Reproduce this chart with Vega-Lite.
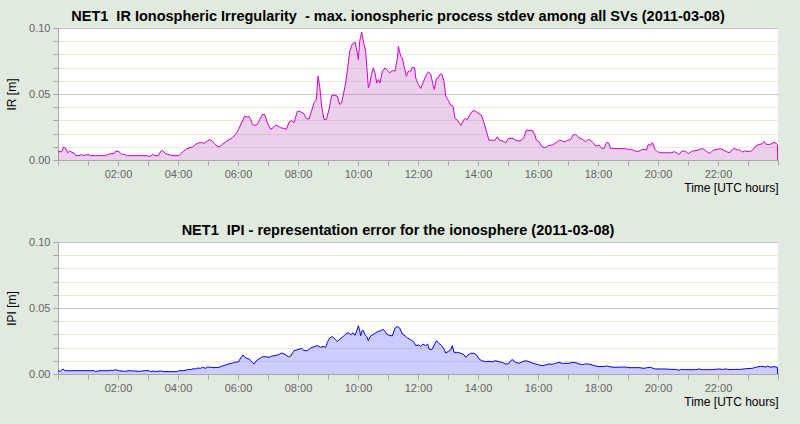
{
  "$schema": "https://vega.github.io/schema/vega-lite/v6.json",
  "background": "#e1eade",
  "padding": {"left": 5, "top": 8, "right": 25, "bottom": 30},
  "config": {
    "font": "Liberation Sans",
    "view": {"fill": "white", "stroke": null},
    "title": {"font": "Liberation Sans", "fontSize": 14.5, "fontWeight": "bold", "color": "#000000", "anchor": "middle", "offset": -2, "dx": -20},
    "axisX": {
      "grid": false, "tickColor": "#a8a8a8", "tickSize": 5, "domainColor": "#a8a8a8",
      "labelColor": "#666666", "labelFontSize": 11, "labelPadding": 3, "labelFont": "Liberation Sans",
      "titleAnchor": "end", "titleFontWeight": "normal", "titleFontSize": 12, "titleColor": "#000000", "titlePadding": 3, "titleFont": "Liberation Sans"
    },
    "axisY": {
      "gridOpacity": 1,
      "tickColor": "#a8a8a8", "tickSize": 5, "domainColor": "#a8a8a8",
      "labelColor": "#666666", "labelFontSize": 11, "labelPadding": 3, "labelFont": "Liberation Sans",
      "titleFontWeight": "normal", "titleFontSize": 12, "titleColor": "#000000", "titlePadding": 10, "titleFont": "Liberation Sans"
    }
  },
  "datasets": {
    "ir": [
      {"h":0,"v":0.0063},{"h":0.122,"v":0.0063},{"h":0.189,"v":0.0098},{"h":0.256,"v":0.0088},{"h":0.322,"v":0.0055},{"h":0.389,"v":0.0068},{"h":0.456,"v":0.006},{"h":0.533,"v":0.0053},{"h":0.589,"v":0.0033},{"h":0.7,"v":0.0033},{"h":0.789,"v":0.004},{"h":0.867,"v":0.0033},{"h":0.922,"v":0.004},{"h":1.033,"v":0.004},{"h":1.089,"v":0.0033},{"h":1.256,"v":0.0033},{"h":1.589,"v":0.0033},{"h":1.678,"v":0.0043},{"h":1.756,"v":0.0048},{"h":1.867,"v":0.0048},{"h":1.922,"v":0.0068},{"h":2.033,"v":0.0063},{"h":2.122,"v":0.0043},{"h":2.233,"v":0.0043},{"h":2.278,"v":0.0033},{"h":2.589,"v":0.0033},{"h":2.978,"v":0.0033},{"h":3.033,"v":0.0025},{"h":3.144,"v":0.004},{"h":3.256,"v":0.0033},{"h":3.344,"v":0.0033},{"h":3.422,"v":0.0065},{"h":3.478,"v":0.0073},{"h":3.589,"v":0.0048},{"h":3.7,"v":0.004},{"h":3.811,"v":0.0033},{"h":4.033,"v":0.0033},{"h":4.089,"v":0.0048},{"h":4.2,"v":0.0068},{"h":4.289,"v":0.0086},{"h":4.367,"v":0.0091},{"h":4.478,"v":0.0098},{"h":4.589,"v":0.0118},{"h":4.7,"v":0.0131},{"h":4.811,"v":0.0131},{"h":4.867,"v":0.0126},{"h":4.978,"v":0.0144},{"h":5.056,"v":0.0154},{"h":5.144,"v":0.0144},{"h":5.233,"v":0.0118},{"h":5.367,"v":0.0098},{"h":5.478,"v":0.0118},{"h":5.589,"v":0.0136},{"h":5.7,"v":0.0154},{"h":5.811,"v":0.0169},{"h":5.923,"v":0.0194},
      {"h":6.034,"v":0.0239},{"h":6.145,"v":0.0295},{"h":6.223,"v":0.0332},{"h":6.312,"v":0.0325},{"h":6.367,"v":0.0332},{"h":6.423,"v":0.0307},{"h":6.479,"v":0.027},{"h":6.567,"v":0.0262},{"h":6.645,"v":0.027},{"h":6.723,"v":0.0307},{"h":6.812,"v":0.0345},{"h":6.89,"v":0.0345},{"h":6.979,"v":0.0282},{"h":7.09,"v":0.0232},{"h":7.167,"v":0.0244},{"h":7.256,"v":0.0264},{"h":7.334,"v":0.0257},{"h":7.423,"v":0.0244},{"h":7.534,"v":0.0239},{"h":7.612,"v":0.0232},{"h":7.701,"v":0.0287},{"h":7.779,"v":0.03},{"h":7.867,"v":0.0282},{"h":7.979,"v":0.037},{"h":8.09,"v":0.0365},{"h":8.201,"v":0.035},{"h":8.279,"v":0.0315},{"h":8.367,"v":0.031},{"h":8.456,"v":0.0375},{"h":8.534,"v":0.0433},{"h":8.612,"v":0.0458},{"h":8.667,"v":0.0635},{"h":8.723,"v":0.0559},{"h":8.79,"v":0.0408},{"h":8.867,"v":0.0307},{"h":8.945,"v":0.0307},{"h":9.034,"v":0.0383},{"h":9.123,"v":0.0489},{"h":9.201,"v":0.0491},{"h":9.312,"v":0.0484},{"h":9.39,"v":0.0421},{"h":9.456,"v":0.0433},{"h":9.523,"v":0.0509},{"h":9.59,"v":0.0584},{"h":9.656,"v":0.0698},{"h":9.723,"v":0.0824},{"h":9.812,"v":0.0879},{"h":9.901,"v":0.0894},{"h":9.979,"v":0.0811},{"h":10.012,"v":0.0761},{"h":10.056,"v":0.0899},{"h":10.123,"v":0.097},{"h":10.19,"v":0.0887},{"h":10.256,"v":0.0824},{"h":10.345,"v":0.0547},{"h":10.39,"v":0.0572},{"h":10.445,"v":0.0647},{"h":10.512,"v":0.0698},{"h":10.567,"v":0.066},{"h":10.623,"v":0.0584},{"h":10.679,"v":0.061},{"h":10.734,"v":0.0584},{"h":10.812,"v":0.0673},{"h":10.901,"v":0.0698},{"h":10.979,"v":0.0678},{"h":11.056,"v":0.066},{"h":11.145,"v":0.0678},{"h":11.234,"v":0.0673},{"h":11.312,"v":0.0773},{"h":11.345,"v":0.0861},{"h":11.423,"v":0.0786},{"h":11.479,"v":0.0773},{"h":11.534,"v":0.071},{"h":11.612,"v":0.0635},{"h":11.679,"v":0.0673},{"h":11.756,"v":0.0673},{"h":11.812,"v":0.0703},{"h":11.89,"v":0.0698},
      {"h":11.923,"v":0.0622},{"h":12.012,"v":0.0572},{"h":12.09,"v":0.0542},{"h":12.167,"v":0.0584},{"h":12.256,"v":0.0635},{"h":12.345,"v":0.0668},{"h":12.423,"v":0.0652},{"h":12.501,"v":0.0572},{"h":12.545,"v":0.0534},{"h":12.612,"v":0.0617},{"h":12.679,"v":0.0622},{"h":12.723,"v":0.0647},{"h":12.79,"v":0.0652},{"h":12.867,"v":0.0597},{"h":12.923,"v":0.0484},{"h":13.012,"v":0.0451},{"h":13.09,"v":0.0416},{"h":13.167,"v":0.0408},{"h":13.234,"v":0.0315},{"h":13.312,"v":0.0302},{"h":13.367,"v":0.0282},{"h":13.434,"v":0.0262},{"h":13.501,"v":0.0295},{"h":13.567,"v":0.0315},{"h":13.645,"v":0.0307},{"h":13.701,"v":0.0332},{"h":13.79,"v":0.0365},{"h":13.867,"v":0.0375},{"h":13.945,"v":0.0365},{"h":14.034,"v":0.035},{"h":14.112,"v":0.034},{"h":14.201,"v":0.0282},{"h":14.279,"v":0.0219},{"h":14.367,"v":0.0149},{"h":14.456,"v":0.0151},{"h":14.567,"v":0.0149},{"h":14.645,"v":0.0176},{"h":14.723,"v":0.0149},{"h":14.834,"v":0.0144},{"h":14.923,"v":0.0131},{"h":15.012,"v":0.0164},{"h":15.167,"v":0.0164},{"h":15.256,"v":0.0149},{"h":15.367,"v":0.0144},{"h":15.456,"v":0.0151},{"h":15.534,"v":0.0174},{"h":15.612,"v":0.0227},{"h":15.701,"v":0.0224},{"h":15.812,"v":0.0224},{"h":15.89,"v":0.0194},{"h":15.945,"v":0.0151},{"h":16.034,"v":0.0139},{"h":16.123,"v":0.0103},{"h":16.201,"v":0.0093},{"h":16.279,"v":0.0098},{"h":16.367,"v":0.0111},{"h":16.479,"v":0.0113},{"h":16.567,"v":0.0126},{"h":16.645,"v":0.0139},{"h":16.723,"v":0.0151},{"h":16.812,"v":0.0144},{"h":16.901,"v":0.0136},{"h":16.979,"v":0.0149},{"h":17.09,"v":0.0156},{"h":17.167,"v":0.0189},{"h":17.256,"v":0.0194},{"h":17.367,"v":0.0169},{"h":17.479,"v":0.0156},{"h":17.59,"v":0.0139},{"h":17.679,"v":0.0156},{"h":17.756,"v":0.0149},{"h":17.834,"v":0.0131},{"h":17.923,"v":0.0106},
      {"h":18.034,"v":0.0113},{"h":18.123,"v":0.0088},{"h":18.201,"v":0.0088},{"h":18.279,"v":0.0131},{"h":18.345,"v":0.0131},{"h":18.423,"v":0.0088},{"h":18.534,"v":0.0086},{"h":18.701,"v":0.0086},{"h":18.923,"v":0.0086},{"h":18.979,"v":0.0081},{"h":19.09,"v":0.0081},{"h":19.201,"v":0.0073},{"h":19.279,"v":0.0063},{"h":19.367,"v":0.0068},{"h":19.479,"v":0.0081},{"h":19.612,"v":0.0076},{"h":19.679,"v":0.0118},{"h":19.745,"v":0.0111},{"h":19.812,"v":0.0131},{"h":19.901,"v":0.0081},{"h":19.979,"v":0.0063},{"h":20.09,"v":0.0055},{"h":20.256,"v":0.0055},{"h":20.456,"v":0.0055},{"h":20.534,"v":0.0063},{"h":20.645,"v":0.0053},{"h":20.701,"v":0.004},{"h":20.79,"v":0.0068},{"h":20.901,"v":0.0068},{"h":21.012,"v":0.0048},{"h":21.145,"v":0.0068},{"h":21.312,"v":0.0073},{"h":21.456,"v":0.0086},{"h":21.534,"v":0.0081},{"h":21.645,"v":0.006},{"h":21.734,"v":0.005},{"h":21.834,"v":0.0073},{"h":21.979,"v":0.0081},{"h":22.09,"v":0.0086},{"h":22.201,"v":0.0073},{"h":22.312,"v":0.006},{"h":22.39,"v":0.0055},{"h":22.479,"v":0.0081},{"h":22.567,"v":0.0086},{"h":22.645,"v":0.0076},{"h":22.723,"v":0.0078},{"h":22.812,"v":0.006},{"h":22.89,"v":0.0068},{"h":23.056,"v":0.0063},{"h":23.145,"v":0.0073},{"h":23.256,"v":0.0106},{"h":23.367,"v":0.0118},{"h":23.479,"v":0.0123},{"h":23.545,"v":0.0141},{"h":23.612,"v":0.0118},{"h":23.701,"v":0.0118},{"h":23.79,"v":0.0123},{"h":23.867,"v":0.0134},{"h":23.945,"v":0.0126},{"h":23.98,"v":0.0118},{"h":23.99,"v":0}
    ],
    "ipi": [
      {"h":0,"v":0.0025},{"h":0.078,"v":0.002},{"h":0.167,"v":0.0038},{"h":0.233,"v":0.0025},{"h":1.033,"v":0.0025},{"h":1.2,"v":0.0025},{"h":1.256,"v":0.0018},{"h":1.367,"v":0.0025},{"h":1.7,"v":0.0025},{"h":1.756,"v":0.003},{"h":1.811,"v":0.0025},{"h":1.922,"v":0.0033},{"h":2.011,"v":0.0025},{"h":2.256,"v":0.002},{"h":2.367,"v":0.0025},{"h":2.756,"v":0.002},{"h":2.867,"v":0.0025},{"h":3.033,"v":0.0025},{"h":3.089,"v":0.0018},{"h":3.2,"v":0.0023},{"h":3.256,"v":0.0018},{"h":3.422,"v":0.0023},{"h":3.533,"v":0.0018},{"h":3.978,"v":0.0018},{"h":4.033,"v":0.0025},{"h":4.2,"v":0.0025},{"h":4.311,"v":0.0033},{"h":4.422,"v":0.0033},{"h":4.5,"v":0.004},{"h":4.589,"v":0.0038},{"h":4.644,"v":0.0045},{"h":4.756,"v":0.0043},{"h":4.811,"v":0.0051},{"h":4.922,"v":0.0043},{"h":4.978,"v":0.0053},{"h":5.089,"v":0.0051},{"h":5.2,"v":0.0048},{"h":5.367,"v":0.0051},{"h":5.478,"v":0.0061},{"h":5.589,"v":0.0068},{"h":5.7,"v":0.0076},{"h":5.811,"v":0.0083},{"h":5.922,"v":0.0091},
      {"h":6.012,"v":0.0091},{"h":6.09,"v":0.0121},{"h":6.167,"v":0.0144},{"h":6.256,"v":0.0121},{"h":6.367,"v":0.0114},{"h":6.456,"v":0.0096},{"h":6.534,"v":0.0076},{"h":6.612,"v":0.0101},{"h":6.701,"v":0.0114},{"h":6.812,"v":0.0131},{"h":6.923,"v":0.0131},{"h":7.034,"v":0.0126},{"h":7.123,"v":0.0136},{"h":7.234,"v":0.0139},{"h":7.345,"v":0.0146},{"h":7.456,"v":0.0159},{"h":7.567,"v":0.0149},{"h":7.679,"v":0.0131},{"h":7.756,"v":0.0136},{"h":7.867,"v":0.0177},{"h":7.979,"v":0.0184},{"h":8.123,"v":0.0194},{"h":8.201,"v":0.0177},{"h":8.312,"v":0.0177},{"h":8.423,"v":0.0197},{"h":8.534,"v":0.0207},{"h":8.645,"v":0.0215},{"h":8.756,"v":0.0202},{"h":8.834,"v":0.021},{"h":8.923,"v":0.0202},{"h":8.979,"v":0.024},{"h":9.056,"v":0.0273},{"h":9.145,"v":0.0283},{"h":9.234,"v":0.0265},{"h":9.312,"v":0.0247},{"h":9.401,"v":0.0265},{"h":9.501,"v":0.0283},{"h":9.59,"v":0.0303},{"h":9.679,"v":0.0313},{"h":9.756,"v":0.0298},{"h":9.834,"v":0.0311},{"h":9.901,"v":0.0293},{"h":9.979,"v":0.0341},{"h":10.012,"v":0.0366},{"h":10.056,"v":0.0328},{"h":10.09,"v":0.029},{"h":10.123,"v":0.0323},{"h":10.167,"v":0.0333},{"h":10.234,"v":0.0298},{"h":10.29,"v":0.0283},{"h":10.345,"v":0.0253},{"h":10.423,"v":0.029},{"h":10.501,"v":0.0298},{"h":10.59,"v":0.0313},{"h":10.679,"v":0.0323},{"h":10.756,"v":0.0328},{"h":10.834,"v":0.0338},{"h":10.901,"v":0.0323},{"h":10.979,"v":0.0298},{"h":11.056,"v":0.0293},{"h":11.145,"v":0.0288},{"h":11.234,"v":0.0348},{"h":11.312,"v":0.0359},{"h":11.39,"v":0.0348},{"h":11.479,"v":0.0303},{"h":11.567,"v":0.029},{"h":11.645,"v":0.0273},{"h":11.756,"v":0.026},{"h":11.867,"v":0.024},
      {"h":11.923,"v":0.0215},{"h":12.012,"v":0.022},{"h":12.09,"v":0.021},{"h":12.167,"v":0.0227},{"h":12.256,"v":0.0215},{"h":12.323,"v":0.0227},{"h":12.367,"v":0.0189},{"h":12.456,"v":0.0184},{"h":12.534,"v":0.0215},{"h":12.612,"v":0.0253},{"h":12.701,"v":0.0232},{"h":12.79,"v":0.0215},{"h":12.867,"v":0.0189},{"h":12.923,"v":0.0159},{"h":13.012,"v":0.0172},{"h":13.09,"v":0.0182},{"h":13.145,"v":0.0215},{"h":13.201,"v":0.0164},{"h":13.312,"v":0.0164},{"h":13.423,"v":0.0157},{"h":13.534,"v":0.0146},{"h":13.59,"v":0.0126},{"h":13.679,"v":0.0146},{"h":13.756,"v":0.0157},{"h":13.867,"v":0.0157},{"h":13.956,"v":0.0144},{"h":14.034,"v":0.0114},{"h":14.123,"v":0.0101},{"h":14.256,"v":0.0093},{"h":14.367,"v":0.0096},{"h":14.479,"v":0.0093},{"h":14.59,"v":0.0101},{"h":14.701,"v":0.0093},{"h":14.812,"v":0.0088},{"h":14.923,"v":0.0076},{"h":15.012,"v":0.0076},{"h":15.09,"v":0.0101},{"h":15.145,"v":0.0109},{"h":15.256,"v":0.0088},{"h":15.367,"v":0.0081},{"h":15.479,"v":0.0093},{"h":15.59,"v":0.0101},{"h":15.701,"v":0.0093},{"h":15.812,"v":0.0083},{"h":15.923,"v":0.0076},{"h":16.034,"v":0.0068},{"h":16.145,"v":0.0063},{"h":16.256,"v":0.0068},{"h":16.367,"v":0.0076},{"h":16.479,"v":0.0073},{"h":16.59,"v":0.0081},{"h":16.701,"v":0.0088},{"h":16.812,"v":0.0081},{"h":17.034,"v":0.0081},{"h":17.145,"v":0.0088},{"h":17.256,"v":0.0086},{"h":17.367,"v":0.0076},{"h":17.479,"v":0.0071},{"h":17.59,"v":0.0076},{"h":17.701,"v":0.0076},{"h":17.812,"v":0.0068},{"h":17.923,"v":0.0061},
      {"h":18.034,"v":0.0056},{"h":18.256,"v":0.0058},{"h":18.312,"v":0.0061},{"h":18.367,"v":0.0056},{"h":18.534,"v":0.0051},{"h":18.923,"v":0.0053},{"h":19.034,"v":0.0048},{"h":19.367,"v":0.0048},{"h":19.534,"v":0.0043},{"h":19.645,"v":0.0048},{"h":19.756,"v":0.0051},{"h":19.834,"v":0.0043},{"h":19.923,"v":0.0038},{"h":20.256,"v":0.0038},{"h":20.423,"v":0.0035},{"h":20.59,"v":0.0035},{"h":20.701,"v":0.0028},{"h":20.756,"v":0.0035},{"h":20.923,"v":0.0033},{"h":21.256,"v":0.0033},{"h":21.367,"v":0.0038},{"h":21.479,"v":0.0033},{"h":21.812,"v":0.0033},{"h":22.034,"v":0.0038},{"h":22.145,"v":0.0035},{"h":22.279,"v":0.0038},{"h":22.367,"v":0.0033},{"h":22.59,"v":0.0035},{"h":22.756,"v":0.0035},{"h":22.923,"v":0.004},{"h":23.145,"v":0.0043},{"h":23.256,"v":0.0051},{"h":23.423,"v":0.0058},{"h":23.534,"v":0.0056},{"h":23.59,"v":0.0051},{"h":23.645,"v":0.0061},{"h":23.756,"v":0.0051},{"h":23.867,"v":0.0056},{"h":23.98,"v":0.0051},{"h":23.99,"v":0}
    ]
  },
  "vconcat": [
    {
      "title": "NET1\u00a0\u00a0IR Ionospheric Irregularity\u00a0\u00a0- max. ionospheric process stdev among all SVs (2011-03-08)",
      "width": 720, "height": 132,
      "data": {"name": "ir"},
      "encoding": {
        "x": {"field": "h", "type": "quantitative", "scale": {"domain": [0, 24], "nice": false, "zero": false},
          "axis": {"title": "Time [UTC hours]", "values": [0,1,2,3,4,5,6,7,8,9,10,11,12,13,14,15,16,17,18,19,20,21,22,23,24], "labelOverlap": false,
            "labelExpr": "datum.value % 2 == 0 && datum.value > 0 && datum.value < 24 ? (datum.value < 10 ? '0' : '') + datum.value + ':00' : ''"}},
        "y": {"field": "v", "type": "quantitative", "scale": {"domain": [0, 0.1], "nice": false},
          "axis": {"title": "IR [m]", "values": [0,0.01,0.02,0.03,0.04,0.05,0.06,0.07,0.08,0.09,0.1], "labelOverlap": false,
            "labelExpr": "round(datum.value*100) % 5 == 0 ? format(datum.value, '.2f') : ''",
            "gridColor": {"condition": {"test": "round(datum.value*100) % 5 == 0", "value": "#c8c8c8"}, "value": "#ebebda"}}}
      },
      "layer": [
        {"mark": {"type": "area", "color": "#b040b0", "fillOpacity": 0.25}},
        {"mark": {"type": "line", "color": "#d000d0", "strokeWidth": 1}}
      ]
    },
    {
      "title": "NET1\u00a0\u00a0IPI - representation error for the ionosphere (2011-03-08)",
      "width": 720, "height": 132,
      "data": {"name": "ipi"},
      "encoding": {
        "x": {"field": "h", "type": "quantitative", "scale": {"domain": [0, 24], "nice": false, "zero": false},
          "axis": {"title": "Time [UTC hours]", "values": [0,1,2,3,4,5,6,7,8,9,10,11,12,13,14,15,16,17,18,19,20,21,22,23,24], "labelOverlap": false,
            "labelExpr": "datum.value % 2 == 0 && datum.value > 0 && datum.value < 24 ? (datum.value < 10 ? '0' : '') + datum.value + ':00' : ''"}},
        "y": {"field": "v", "type": "quantitative", "scale": {"domain": [0, 0.1], "nice": false},
          "axis": {"title": "IPI [m]", "values": [0,0.01,0.02,0.03,0.04,0.05,0.06,0.07,0.08,0.09,0.1], "labelOverlap": false,
            "labelExpr": "round(datum.value*100) % 5 == 0 ? format(datum.value, '.2f') : ''",
            "gridColor": {"condition": {"test": "round(datum.value*100) % 5 == 0", "value": "#c8c8c8"}, "value": "#ebebda"}}}
      },
      "layer": [
        {"mark": {"type": "area", "color": "#0000ff", "fillOpacity": 0.2}},
        {"mark": {"type": "line", "color": "#0000ff", "strokeWidth": 1}}
      ]
    }
  ],
  "spacing": 29
}
